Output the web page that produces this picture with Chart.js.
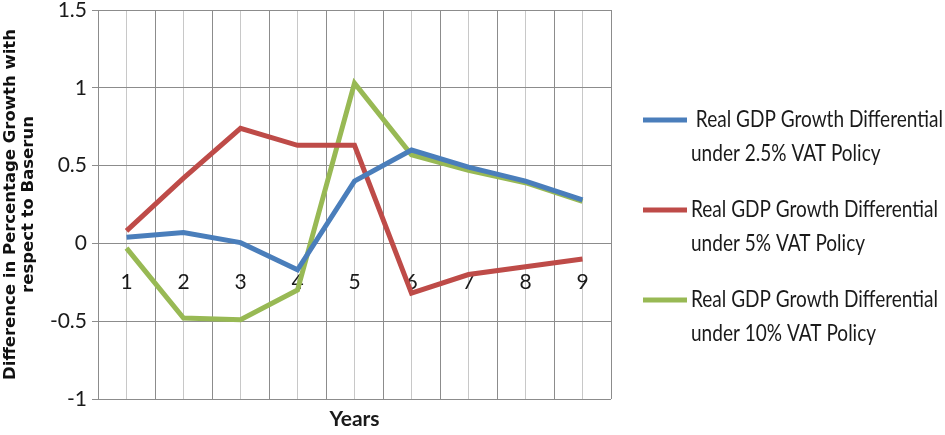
<!DOCTYPE html>
<html>
<head>
<meta charset="utf-8">
<script src="https://cdn.jsdelivr.net/npm/chart.js@4.4.1/dist/chart.umd.min.js"></script>
<style>
  html, body { margin: 0; padding: 0; background: #fff; }
  #wrap { width: 945px; height: 435px; position: relative; }
</style>
</head>
<body>
<div id="wrap"><canvas id="grafico"></canvas></div>
<script>
const years = ['1', '2', '3', '4', '5', '6', '7', '8', '9'];

// Real GDP growth differential, per policy
const vat25 = [0.04, 0.07, 0.005, -0.17, 0.40, 0.60, 0.49, 0.40, 0.28];
const vat5 = [0.08, 0.42, 0.74, 0.63, 0.63, -0.32, -0.20, -0.15, -0.10];
const vat10 = [-0.03, -0.48, -0.49, -0.30, 1.03, 0.57, 0.47, 0.39, 0.27];

const seriesNames = [
  [' Real GDP Growth Differential', 'under 2.5% VAT Policy'],
  ['Real GDP Growth Differential', 'under 5% VAT Policy'],
  ['Real GDP Growth Differential', 'under 10% VAT Policy']
];
const seriesColors = ['#4A7EBB', '#BE4B48', '#98B954'];

const yMin = -1;
const yMax = 1.5;
const yStep = 0.5;

const fuente = 'Lato, "Liberation Sans", sans-serif';

// leyenda a la derecha, dos lineas por serie (texto algo condensado)
const leyendaDerecha = {
  id: 'leyendaDerecha',
  afterDraw(chart) {
    const ctx = chart.ctx;
    ctx.save();
    ctx.font = '23px ' + fuente;
    const sx = 247 / ctx.measureText('Real GDP Growth Differential').width;
    chart.data.datasets.forEach((ds, i) => {
      const y = 120 + i * 90;
      ctx.strokeStyle = ds.borderColor;
      ctx.lineWidth = 5;
      ctx.beginPath();
      ctx.moveTo(643, y);
      ctx.lineTo(687, y);
      ctx.stroke();
      ctx.fillStyle = '#1a1a1a';
      ctx.textBaseline = 'middle';
      ctx.textAlign = 'left';
      ds.label.forEach((line, j) => {
        ctx.save();
        ctx.translate(691, y + j * 34);
        ctx.scale(sx, 1);
        ctx.fillText(line, 0, 0);
        ctx.restore();
      });
    });
    ctx.restore();
  }
};

const ctx = document.getElementById('grafico').getContext('2d');

const chart = new Chart(ctx, {
  type: 'line',
  data: {
    labels: years,
    datasets: [vat25, vat5, vat10].map((vals, i) => ({
      label: seriesNames[i],
      data: vals,
      borderColor: seriesColors[i],
      backgroundColor: seriesColors[i],
      borderWidth: 5,
      pointRadius: 0,
      tension: 0,
      fill: false
    }))
  },
  options: {
    responsive: true,
    maintainAspectRatio: false,
    animation: false,
    layout: { padding: { top: 10, right: 334, left: 0, bottom: 0 } },
    plugins: {
      legend: { display: false },
      tooltip: { enabled: false }
    },
    scales: {
      x: {
        type: 'category',
        offset: true,
        position: { y: 0 },
        grid: { offset: true, color: '#8c8c8c', drawTicks: false },
        border: { display: false },
        ticks: {
          padding: 26,
          color: '#1a1a1a',
          font: { family: fuente, size: 21 }
        }
      },
      x2: {
        type: 'category',
        labels: years,
        offset: true,
        position: 'bottom',
        grid: { offset: false, color: '#c8c8c8', drawTicks: false },
        border: { display: false },
        ticks: { display: false },
        title: {
          display: true,
          text: 'Years',
          color: '#1a1a1a',
          font: { family: fuente, size: 21, weight: 'bold' },
          padding: { top: 0, bottom: 3 }
        },
        afterFit(scale) { scale.height = 36; }
      },
      y: {
        min: yMin,
        max: yMax,
        grid: { color: '#8c8c8c', tickLength: 6 },
        border: { display: true, color: '#8c8c8c' },
        ticks: {
          stepSize: yStep,
          padding: 5,
          color: '#1a1a1a',
          font: { family: fuente, size: 21, lineHeight: 1 },
          callback: v => String(v)
        },
        title: {
          display: true,
          text: ['Difference in Percentage Growth with', 'respect to Baserun'],
          color: '#111',
          font: { family: '"DejaVu Sans", sans-serif', size: 16.5, weight: 'bold', lineHeight: 1.12 },
          padding: { top: 1, bottom: 0 }
        },
        afterFit(scale) {
          scale.width = 98;
          scale.paddingTop = 0;
          scale.paddingBottom = 0;
        }
      }
    }
  },
  plugins: [leyendaDerecha]
});
</script>
</body>
</html>
